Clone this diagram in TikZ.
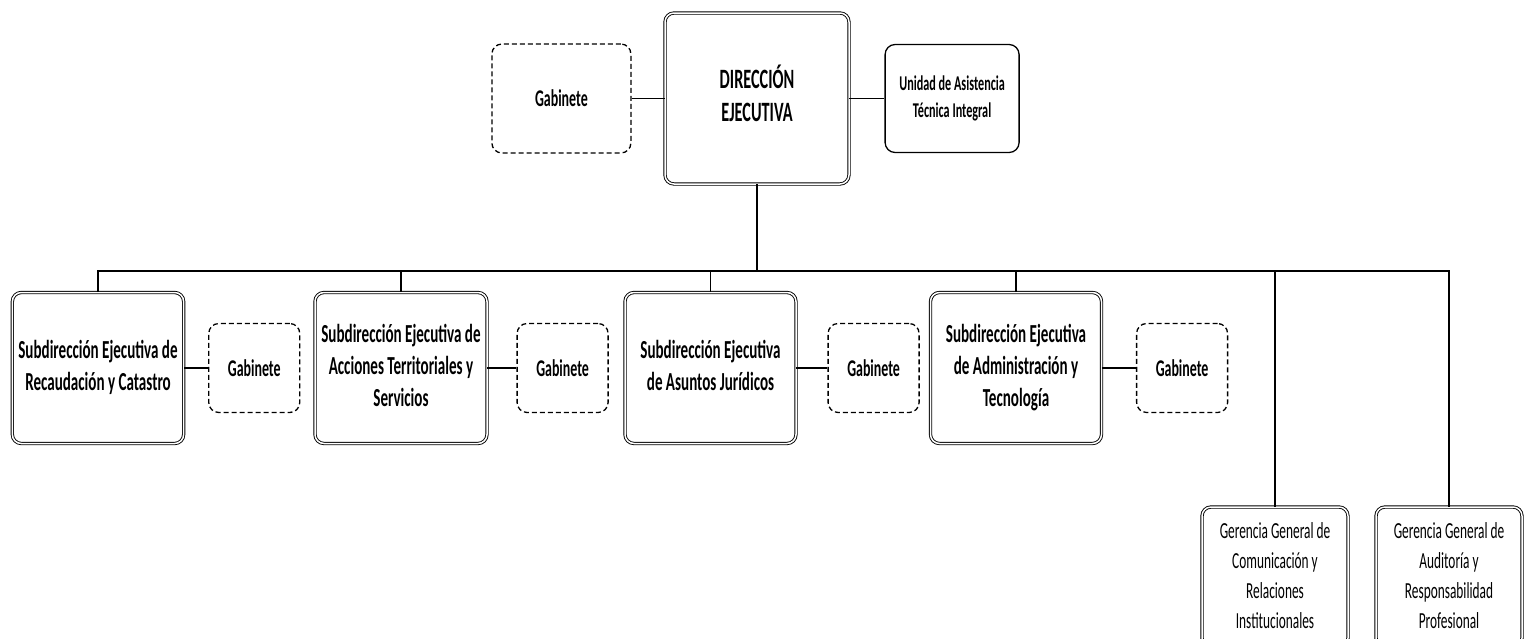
\documentclass[tikz,border=0pt]{standalone}
\usepackage{fontspec}
\setmainfont{Carlito}[FakeStretch=0.58]
\usetikzlibrary{positioning}

\tikzset{
  mainbox/.style={draw, double, double distance=1.5pt, line width=0.9pt, rounded corners=9pt, inner sep=0pt, font=\bfseries\fontsize{26}{32}\selectfont},
  gabbox/.style={draw, dash pattern=on 5pt off 3pt, line width=1.3pt, rounded corners=10pt, inner sep=0pt, minimum width=91pt, minimum height=89pt, font=\bfseries\fontsize{24}{30}\selectfont},
  unitbox/.style={draw, line width=1.3pt, rounded corners=10pt, inner sep=0pt, font=\bfseries\fontsize{21}{27}\selectfont},
  gerbox/.style={draw, double, double distance=1.5pt, line width=0.9pt, rounded corners=9pt, inner sep=0pt, minimum width=146pt, minimum height=140pt, font=\fontsize{23}{30}\selectfont}
}

\begin{document}
\begin{tikzpicture} [x=1pt, y=-1pt, line width=1.3pt]
    \useasboundingbox (0,0) rectangle (1525,638);
    \clip (0,0) rectangle (1525,638);

    \node (dir) [mainbox, minimum width=184pt, minimum height=171pt, font=\bfseries\fontsize{28}{33}\selectfont] at (757,98.5) {
      \begin{tabular}{c}
        DIRECCIÓN \\
        EJECUTIVA
      \end{tabular}
    };
    \node (gab) [gabbox, minimum width=139pt, minimum height=109pt, left = 33pt of dir] {Gabinete};
    \node (uat) [unitbox, minimum width=134pt, minimum height=108pt, right = 35pt of dir] {
      \begin{tabular}{c}
        Unidad de Asistencia \\
        Técnica Integral
      \end{tabular}
    };

    \node (serc) [mainbox, minimum width=170pt, minimum height=151pt] at (98,368) {
      \begin{tabular}{c}
        Subdirección Ejecutiva de \\
        Recaudación y Catastro
      \end{tabular}
    };
    \node (gserc) [gabbox, right = 24pt of serc] {Gabinete};
    \node (seats) [mainbox, minimum width=172pt, minimum height=151pt] at (401,368) {
      \begin{tabular}{c}
        Subdirección Ejecutiva de \\
        Acciones Territoriales y \\
        Servicios
      \end{tabular}
    };
    \node (gseats) [gabbox, right = 29pt of seats] {Gabinete};
    \node (seaj) [mainbox, minimum width=171pt, minimum height=151pt] at (710.5,368) {
      \begin{tabular}{c}
        Subdirección Ejecutiva \\
        de Asuntos Jurídicos
      \end{tabular}
    };
    \node (gseaj) [gabbox, right = 31pt of seaj] {Gabinete};
    \node (seat) [mainbox, minimum width=171pt, minimum height=151pt] at (1016,368) {
      \begin{tabular}{c}
        Subdirección Ejecutiva \\
        de Administración y \\
        Tecnología
      \end{tabular}
    };
    \node (gseat) [gabbox, right = 34pt of seat] {Gabinete};

    \node (ggcri) [gerbox] at (1275,577) {
      \begin{tabular}{c}
        Gerencia General de \\
        Comunicación y \\
        Relaciones \\
        Institucionales
      \end{tabular}
    };
    \node (ggarp) [gerbox] at (1449,577) {
      \begin{tabular}{c}
        Gerencia General de \\
        Auditoría y \\
        Responsabilidad \\
        Profesional
      \end{tabular}
    };

    \coordinate (bus) at (757,271);

    \draw [-] (gab) -- (dir);
    \draw [-] (dir) -- (uat);
    \draw [-] (dir) -- (bus);
    \draw [-] (serc) |- (bus) -| (ggarp);
    \draw [-] (seats) -- (seats |- bus);
    \draw [-] (seaj) -- (seaj |- bus);
    \draw [-] (seat) -- (seat |- bus);
    \draw [-] (ggcri) -- (ggcri |- bus);

    \draw [-] (serc) -- (gserc);
    \draw [-] (seats) -- (gseats);
    \draw [-] (seaj) -- (gseaj);
    \draw [-] (seat) -- (gseat);
  \end{tikzpicture}
\end{document}
